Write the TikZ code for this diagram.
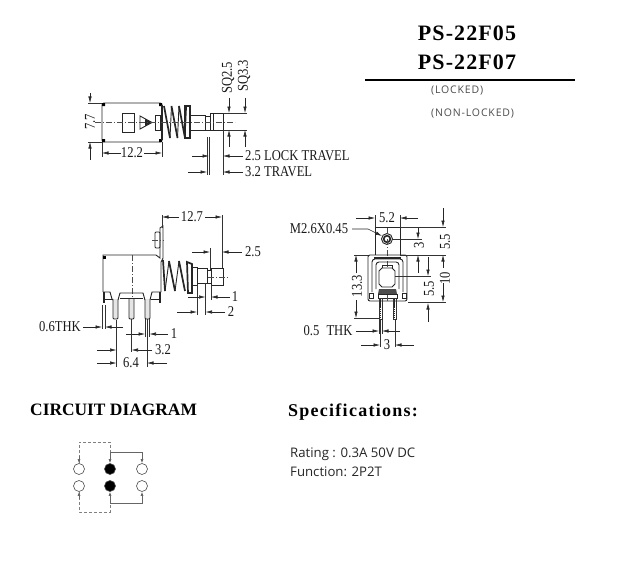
\documentclass[tikz,border=0pt]{standalone}
\usepackage{fontspec}
\usetikzlibrary{arrows.meta}
\setmainfont{Liberation Serif}
\newfontfamily\dimfont[FakeStretch=0.84]{Liberation Serif}
\newfontfamily\titlefont[LetterSpace=5]{Liberation Serif}
\newfontfamily\specfont[LetterSpace=7]{Liberation Serif}
\newfontfamily\notefont{Open Sans}
\newfontfamily\modefont[LetterSpace=8]{Open Sans}
\tikzset{
  part/.style={line width=.9pt, black!85},
  heavy/.style={line width=1.7pt, black!85},
  dimline/.style={line width=.5pt, black!80},
  dimarrow/.style={line width=.6pt, black!85, -{Latex[length=6.5pt,width=3.5pt]}},
  centerline/.style={line width=.45pt, black!70, dash pattern=on 6pt off 2pt on 1pt off 2pt},
  dimtext/.style={font=\dimfont\fontsize{15}{17}\selectfont, black!90, inner sep=0pt},
  wire/.style={line width=.7pt, black!60},
  dashwire/.style={line width=.7pt, black!50, dashed, dash pattern=on 3pt off 2pt},
  wiretip/.style={-{Latex[length=4pt,width=3pt]}},
  contact/.style={circle, draw=black!70, line width=.6pt, minimum size=11pt, inner sep=0pt},
  closed/.style={contact, fill=black}
}
\begin{document}
\begin{tikzpicture}[x=1pt,y=-1pt]
  \useasboundingbox (0,0) rectangle (617,567);
  % title
  \node[font=\titlefont\bfseries\fontsize{22}{24}\selectfont] (partone) at (467,33) {PS-22F05};
  \node[font=\titlefont\bfseries\fontsize{22}{24}\selectfont] (parttwo) at (467,62) {PS-22F07};
  \draw[line width=1.8pt] (365,80) -- (575,80);
  \node[font=\modefont\fontsize{10.5}{12}\selectfont, black!70, anchor=west, inner sep=0pt] (locked) at (431,91) {(LOCKED)};
  \node[font=\modefont\fontsize{10.5}{12}\selectfont, black!70, anchor=west, inner sep=0pt] (nonlocked) at (431,114) {(NON-LOCKED)};

  % top view
  \draw[part, rounded corners=2pt] (102,103) rectangle (162,142);
  \fill (102,103) rectangle (105,106) (159,103) rectangle (162,106) (102,139) rectangle (105,142) (159,139) rectangle (162,142);
  \draw[part] (122,113) rectangle (134,132);
  \draw[part] (140,116) -- (152,122.5) -- (140,129) -- cycle;
  \fill[black!85] (145,119) -- (152,122.5) -- (145,126) -- cycle;
  \draw[part] (155,115) rectangle (160,130);
  \draw[heavy] (162,105) -- (162,140);
  \foreach \coil in {164,171.5,179}{
    \draw[heavy] (\coil,106) -- (\coil+6,138);
    \draw[part] (\coil+6,138) -- (\coil+7.5,106);
  }
  \draw[heavy] (185,106) rectangle (190,138);
  \draw[part] (190,115) -- (205,115) -- (205,130) -- (190,130);
  \draw[part] (205,116) -- (210,116) (205,130) -- (210,130);
  \draw[part] (210,113) rectangle (223,130);
  \draw[part] (213,113) -- (213,130);
  \draw[centerline] (95,122) -- (235,122);

  \draw[dimline] (88,103) -- (102,103) (88,142) -- (102,142);
  \draw[dimarrow] (90,93) -- (90,103);
  \draw[dimarrow] (90,160) -- (90,142);
  \node[dimtext, rotate=90] (heighttop) at (90,122) {7.7};
  \draw[dimline] (102,142) -- (102,157) (162,142) -- (162,157);
  \node[dimtext] (lengthtop) at (132,153) {12.2};
  \draw[dimarrow] (121,153) -- (102,153);
  \draw[dimarrow] (144,153) -- (162,153);

  \draw[dimline] (223,113) -- (247,113) (223,130) -- (247,130);
  \draw[dimarrow] (229,98) -- (229,113);
  \draw[dimarrow] (229,147) -- (229,130);
  \draw[dimarrow] (245,98) -- (245,113);
  \draw[dimarrow] (245,147) -- (245,130);
  \node[dimtext, rotate=90] (sqsmall) at (228,78) {SQ2.5};
  \node[dimtext, rotate=90] (sqlarge) at (244,76) {SQ3.3};

  \draw[dimline] (209,137) -- (209,175) (207,137) -- (207,175) (223,130) -- (223,175);
  \draw[dimarrow] (192,156) -- (209,156);
  \draw[dimarrow] (243,156) -- (223,156);
  \draw[dimarrow] (188,172) -- (207,172);
  \draw[dimarrow] (243,172) -- (223,172);
  \node[dimtext, anchor=west] (locktravel) at (245,156) {2.5 LOCK TRAVEL};
  \node[dimtext, anchor=west] (travel) at (245,172) {3.2 TRAVEL};

  % side view
  \draw[part] (103,292) -- (103,255) -- (156,255) -- (160,258) -- (160,228) -- (163,226) -- (163,258) -- (161,262) -- (161,292);
  \fill (103,256) rectangle (106,259);
  \draw[part, rounded corners=1pt] (155,232) rectangle (160,248);
  \draw[centerline] (152,240) -- (164,240);
  \draw[centerline] (132,255) -- (132,298);
  \draw[part] (103,292) -- (110,292) -- (112,299) -- (113,300);
  \draw[part] (118,300) -- (120,293) -- (143,293) -- (145,300);
  \draw[part] (150,300) -- (152,292) -- (161,292);
  \draw[part] (120,298) -- (143,298) (103,299) -- (112,299) (151,299) -- (161,299);
  \draw[heavy] (104,292) -- (104,303) (160,292) -- (160,303);
  \foreach \legx in {113,129,145}{
    \draw[part, fill=black!10, rounded corners=1pt] (\legx,299) -- (\legx,319) -- (\legx+5,319) -- (\legx+5,299);
  }
  \draw[heavy] (163,260) -- (165,291);
  \foreach \coil in {169,179}{
    \draw[heavy] (\coil,261) -- (\coil+6,291);
    \draw[part] (\coil-4,291) -- (\coil,261);
  }
  \draw[heavy] (187,262) -- (192,264) -- (192,293) -- (188,293) -- cycle;
  \draw[part] (192,267) rectangle (197,285);
  \draw[part] (197,268) rectangle (207,283);
  \draw[part] (207,270) rectangle (211,283);
  \draw[part] (211,268) rectangle (223,285);
  \draw[centerline] (208,277) -- (229,277);

  \draw[dimline] (162,215) -- (162,228) (222,215) -- (222,268);
  \node[dimtext] (lengthside) at (192,217) {12.7};
  \draw[dimarrow] (179,217) -- (162,217);
  \draw[dimarrow] (205,217) -- (222,217);
  \draw[dimline] (210,248) -- (210,270);
  \draw[dimarrow] (192,252) -- (210,252);
  \draw[dimarrow] (242,252) -- (222,252);
  \node[dimtext] (travelside) at (253,252) {2.5};
  \draw[dimline] (211,285) -- (211,300) (205.5,283) -- (205.5,315) (197,285) -- (197,315);
  \draw[dimarrow] (188,297) -- (205.5,297);
  \draw[dimarrow] (230,297) -- (211,297);
  \node[dimtext] (neckone) at (235,297) {1};
  \draw[dimarrow] (177,312) -- (197,312);
  \draw[dimarrow] (225,312) -- (205.5,312);
  \node[dimtext] (necktwo) at (231,312) {2};

  \node[dimtext] (thkside) at (60,327) {0.6THK};
  \draw[dimline] (102,305) -- (102,329) (105,305) -- (105,329);
  \draw[dimarrow] (83,327) -- (102,327);
  \draw[dimarrow] (123,327) -- (105,327);
  \draw[dimline] (145,319) -- (145,337) (149.5,319) -- (149.5,337);
  \draw[dimarrow] (126,334) -- (145,334);
  \draw[dimarrow] (168,334) -- (149.5,334);
  \node[dimtext] (pinwidth) at (174,334) {1};
  \draw[dimline] (116.5,320) -- (116.5,367) (131.5,319) -- (131.5,352) (147,319) -- (147,367);
  \draw[dimarrow] (97,350) -- (116.5,350);
  \draw[dimarrow] (152,350) -- (131.5,350);
  \node[dimtext] (pitchone) at (163,350) {3.2};
  \draw[dimarrow] (97,363) -- (116.5,363);
  \draw[dimarrow] (167,363) -- (147,363);
  \node[dimtext] (pitchtwo) at (131,363) {6.4};

  % front view
  \draw[part] (375,255) -- (375,227) -- (400,227) -- (400,255);
  \draw[part] (387,239) circle (5.5);
  \draw[heavy] (387,239) circle (3.3);
  \draw[centerline] (387,228) -- (387,268);
  \draw[part, rounded corners=2pt] (368,255) rectangle (407,301);
  \draw[heavy] (374,258) -- (401,258);
  \draw[part, rounded corners=3pt] (372,292) -- (372,259) -- (403,259) -- (403,292);
  \draw[part, rounded corners=3pt] (376,289) -- (376,262) -- (399,262) -- (399,289);
  \draw[part] (382,268) -- (379,271) -- (379,284) -- (382,287) -- (392,287) -- (395,284) -- (395,271) -- (392,268) -- cycle;
  \draw[part] (382,268) -- (382,265) -- (392,265) -- (392,268);
  \draw[part] (369,293) rectangle (373,298) (402,293) rectangle (406,298);
  \fill[black!70] (379,289) -- (396,289) -- (397,294) -- (378,294) -- cycle;
  \draw[part] (378,294) rectangle (397,298);
  \foreach \legx in {379,393}{
    \draw[heavy, dash pattern=on 1.5pt off .6pt] (\legx+1.5,298) -- (\legx+1.5,319);
    \draw[dimline] (\legx,298) rectangle (\legx+3,319);
  }
  \draw[centerline] (387,295) -- (387,302);

  \draw[dimline] (375,215) -- (375,227) (400,215) -- (400,227);
  \node[dimtext] (platewidth) at (387,218) {5.2};
  \draw[dimarrow] (356,218) -- (375,218);
  \draw[dimarrow] (418,218) -- (400,218);
  \node[dimtext] (threadlabel) at (319,229) {M2.6X0.45};
  \draw[dimarrow] (352,229) -- (368,229) -- (382,236);
  \draw[dimline] (400,227) -- (446,227) (400,255) -- (446,255) (408,302) -- (446,302);
  \draw[dimline] (392,239) -- (422,239) (395,276) -- (431,276);
  \draw[dimarrow] (443,208) -- (443,227);
  \draw[dimarrow] (443,268) -- (443,255);
  \draw[dimarrow] (443,283) -- (443,302);
  \node[dimtext, rotate=90] (fiveup) at (445,242) {5.5};
  \node[dimtext, rotate=90] (tenup) at (445,278) {10};
  \draw[dimarrow] (418,228) -- (418,239);
  \draw[dimarrow] (418,273) -- (418,255);
  \node[dimtext, rotate=90] (holeup) at (419,245) {3};
  \draw[dimarrow] (428,257) -- (428,276);
  \draw[dimarrow] (428,322) -- (428,303);
  \node[dimtext, rotate=90] (fivelow) at (429,289) {5.5};
  \draw[dimline] (354,255) -- (368,255) (354,318) -- (379,318);
  \draw[dimarrow] (356,273) -- (356,255);
  \draw[dimarrow] (356,300) -- (356,318);
  \node[dimtext, rotate=90] (overall) at (357,286) {13.3};
  \node[dimtext] (thkfront) at (328,331) {0.5\hspace{4pt} THK};
  \draw[dimline] (379,319) -- (379,334) (382,319) -- (382,334);
  \draw[dimarrow] (356,331) -- (379,331);
  \draw[dimarrow] (400,331) -- (382,331);
  \draw[dimline] (380,320) -- (380,347) (395,320) -- (395,347);
  \node[dimtext] (pinpitch) at (387,345) {3};
  \draw[dimarrow] (361,345) -- (380,345);
  \draw[dimarrow] (414,345) -- (395,345);

  % circuit
  \node[font=\bfseries\fontsize{17.4}{19}\selectfont, anchor=west, inner sep=0pt] (circuit) at (30,410) {CIRCUIT DIAGRAM};
  \node[contact] (lefttop) at (79,469) {};
  \node[contact] (leftlow) at (79,486) {};
  \node[closed] (midtop) at (110,469) {};
  \node[closed] (midlow) at (110,486) {};
  \node[contact] (righttop) at (142,469) {};
  \node[contact] (rightlow) at (142,486) {};
  \coordinate (boxtl) at (79,442);
  \coordinate (boxtr) at (110,442);
  \coordinate (boxbl) at (79,512);
  \coordinate (boxbr) at (110,512);
  \coordinate (railtop) at (110,452);
  \coordinate (raillow) at (110,503);
  \draw[dashwire] (lefttop) -- (boxtl) -- (boxtr) -- (railtop);
  \draw[dashwire] (leftlow) -- (boxbl) -- (boxbr) -- (raillow);
  \draw[wire, wiretip] (79,456) -- (lefttop);
  \draw[wire, wiretip] (79,499) -- (leftlow);
  \draw[wire, wiretip] (railtop) -- (midtop);
  \draw[wire, wiretip] (raillow) -- (midlow);
  \draw[wire, wiretip] (railtop) -| (righttop);
  \draw[wire, wiretip] (raillow) -| (rightlow);

  % specs
  \node[font=\specfont\bfseries\fontsize{18}{20}\selectfont, anchor=west, inner sep=0pt] (spectitle) at (288,412) {Specifications:};
  \node[font=\notefont\fontsize{13.2}{15}\selectfont, black!85, anchor=west, inner sep=0pt] (rating) at (290,454) {Rating : 0.3A 50V DC};
  \node[font=\notefont\fontsize{13.2}{15}\selectfont, black!85, anchor=west, inner sep=0pt] (function) at (290,472) {Function: 2P2T};
\end{tikzpicture}
\end{document}
